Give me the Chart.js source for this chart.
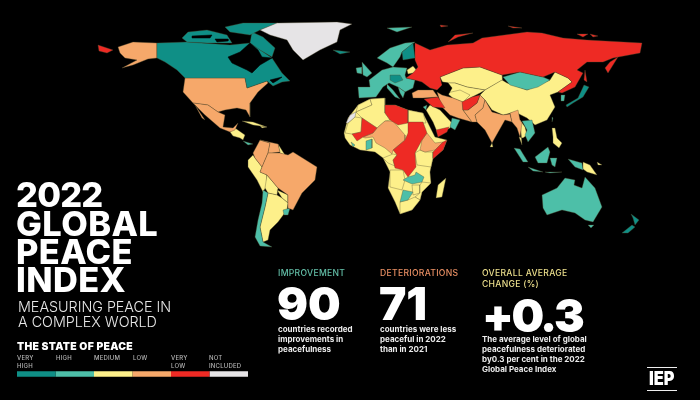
<!DOCTYPE html>
<html lang="en">
<head>
<meta charset="UTF-8">
<title>2022 Global Peace Index</title>
<script src="https://cdn.jsdelivr.net/npm/chart.js@4"></script>
<style>
html,body{margin:0;padding:0;background:#000;}
#wrap{position:relative;width:700px;height:400px;overflow:hidden;background:#000;font-family:Inter,Roboto,sans-serif;color:#fff;}
#map{position:absolute;left:0;top:0;}
#bar{position:absolute;left:17px;top:369px;}
.t{position:absolute;white-space:nowrap;}
.title{left:16px;top:181.4px;font-size:34.4px;line-height:28.3px;font-weight:800;letter-spacing:-.8px;}
.title span{letter-spacing:.4px;}
.sub{left:18px;top:298.5px;font-size:14.3px;line-height:15px;font-weight:300;color:#e8e8e8;}
.state{left:17px;top:339.5px;font-size:10.4px;font-weight:900;letter-spacing:.3px;}
.lg{top:354px;font-size:6px;line-height:8px;font-weight:500;color:#b5b5b5;letter-spacing:.2px;}
.head{font-size:8.6px;line-height:10.5px;font-weight:500;letter-spacing:.3px;}
.num{font-weight:900;font-size:46px;line-height:46px;}
.body{font-size:8px;line-height:10px;font-weight:700;color:#ececec;}
#logo{position:absolute;left:647px;top:367px;width:30px;height:22px;border-top:1px solid #eee;border-bottom:1px solid #eee;font-size:19px;font-weight:900;line-height:22px;text-align:center;}
#logo span{display:inline-block;transform:scaleX(.86);margin-left:-4px;margin-right:-4px;}
</style>
</head>
<body>
<div id="wrap">
	<canvas id="map" width="700" height="400"></canvas>
	<canvas id="bar" width="231" height="10"></canvas>

	<div class="t title">2022<br><span>GLOBAL</span><br><span>PEACE</span><br><span>INDEX</span></div>
	<div class="t sub">MEASURING PEACE IN<br>A COMPLEX WORLD</div>
	<div class="t state">THE STATE OF PEACE</div>
	<div class="t lg" style="left:17px">VERY<br>HIGH</div>
	<div class="t lg" style="left:56px">HIGH</div>
	<div class="t lg" style="left:94px">MEDIUM</div>
	<div class="t lg" style="left:133px">LOW</div>
	<div class="t lg" style="left:171px">VERY<br>LOW</div>
	<div class="t lg" style="left:209px">NOT<br>INCLUDED</div>

	<div class="t head" style="left:278px;top:268px;color:#63bfa8">IMPROVEMENT</div>
	<div class="t num" style="left:277px;top:280px">90</div>
	<div class="t body" style="left:278px;top:324px">countries recorded<br>improvements in<br>peacefulness</div>

	<div class="t head" style="left:380px;top:268px;color:#e98f63">DETERIORATIONS</div>
	<div class="t num" style="left:379px;top:280px">71</div>
	<div class="t body" style="left:380px;top:324px">countries were less<br>peaceful in 2022<br>than in 2021</div>

	<div class="t head" style="left:482px;top:268px;color:#ecdf8c">OVERALL AVERAGE<br>CHANGE (%)</div>
	<div class="t num" style="left:482px;top:292px;letter-spacing:-2.5px">+0.3</div>
	<div class="t body" style="left:482px;top:334px">The average level of global<br>peacefulness deteriorated<br>by0.3 per cent in the 2022<br>Global Peace Index</div>

	<div id="logo"><span>IEP</span></div>
</div>

<script>
// outlines, in map units (0-700 across, 0-400 down)
var greenland=[[260,30],[277,23],[337,22],[352,24],[340,30],[337,42],[320,50],[303,60],[293,50],[287,40],[270,35]];
var alaska=[[118,47],[133,42],[157,43],[157,58],[148,59],[133,65],[122,68],[137,60],[125,58],[120,53]];
var chukotka=[[98,45],[113,50],[107,53],[99,51]];
var canada=[[157,43],[187,42],[230,45],[250,43],[272,58],[282,73],[290,81],[282,82],[273,86],[267,81],[247,88],[245,78],[185,78],[177,70],[165,62],[157,58]];
var baffin=[[252,32],[263,37],[275,48],[272,57],[260,50],[250,43]];
var ellesmere=[[225,27],[243,23],[278,23],[260,30],[250,35],[230,32]];
var arctic=[[182,38],[188,32],[207,30],[227,35],[232,43],[207,43],[187,42]];
var iceland=[[333,50],[350,52],[340,54]];
var usa=[[185,78],[245,78],[247,88],[267,81],[268,83],[258,92],[250,103],[250,117],[246,110],[237,108],[225,110],[218,112],[208,105],[193,103],[183,92]];
var mexico=[[193,103],[208,105],[218,112],[225,115],[223,127],[233,128],[238,123],[235,130],[230,132],[220,128],[205,115]];
var baja=[[195,105],[205,120],[202,118]];
var centralAmerica=[[230,132],[235,128],[245,135],[243,140],[240,138],[233,136]];
var costaRica=[[243,141],[253,144],[248,145]];
var cuba=[[242,121],[253,122],[267,127],[253,125]];
var hispaniola=[[260,126],[267,127],[262,128]];

var colombia=[[253,153],[260,140],[270,143],[268,153],[262,167],[255,158]];
var venezuela=[[260,140],[278,144],[280,152],[272,153],[268,153],[270,143]];
var guyanas=[[278,144],[285,155],[280,153]];
var brazil=[[268,153],[280,153],[288,155],[293,152],[317,167],[315,180],[302,193],[293,210],[288,208],[288,195],[278,188],[267,175],[260,172],[262,167]];
var peru=[[248,160],[253,155],[255,158],[262,167],[260,172],[267,175],[267,185],[263,192],[257,180],[248,167]];
var bolivia=[[267,175],[278,188],[277,195],[268,193],[265,188]];
var paraguay=[[277,190],[288,195],[288,203],[282,198]];
var argentina=[[268,193],[277,195],[282,198],[288,203],[287,210],[278,222],[270,230],[268,240],[263,242],[260,227],[265,207]];
var chile=[[263,190],[268,193],[265,207],[260,227],[263,242],[272,247],[260,246],[255,237],[258,220],[262,203]];
var uruguay=[[283,210],[290,208],[288,215],[284,215]];

var russia=[[430,50],[447,45],[473,43],[482,38],[527,32],[542,33],[563,38],[587,40],[642,43],[640,53],[613,58],[603,62],[587,62],[577,70],[583,73],[575,87],[562,93],[558,92],[572,82],[568,78],[555,72],[543,77],[520,72],[502,75],[480,67],[463,68],[440,77],[442,85],[437,90],[430,88],[422,82],[415,80],[406,78],[413,73],[418,67],[415,60],[415,43]];
var kamchatka=[[605,68],[610,62],[618,57],[613,65],[608,73]];
var sakhalin=[[585,70],[587,82],[584,80]];
var novayaZemlya=[[448,42],[455,35],[473,33],[458,37]];
var severnaya=[[508,26],[522,28],[513,28]];
var newSiberia=[[577,34],[588,34],[583,37]];
var wrangel=[[590,34],[598,36],[593,37]];
var franzJosef=[[440,25],[448,26],[441,27]];
var svalbard=[[387,28],[412,27],[397,32]];
var scandinavia=[[377,58],[390,48],[405,43],[415,42],[402,52],[400,57],[393,67],[387,63]];
var finland=[[402,52],[413,43],[415,58],[403,60]];
var uk=[[362,62],[372,73],[367,77],[363,75]];
var ireland=[[356,68],[362,67],[362,74],[357,73]];
var europe=[[369,80],[382,70],[393,67],[407,68],[405,75],[406,78],[415,80],[413,88],[405,92],[398,87],[389,83],[383,87],[376,97],[359,98],[358,87],[370,87]];
var italy=[[387,84],[393,90],[400,99],[395,97],[387,88]];
var balkans=[[398,87],[405,92],[403,98],[400,93]];
var centralEurope=[[390,75],[400,75],[403,80],[395,83],[390,80]];
var belarus=[[407,70],[413,66],[418,72],[408,74]];
var turkey=[[412,93],[418,90],[433,90],[438,97],[423,98],[413,98]];
var syriaIraq=[[424,99],[438,97],[445,108],[433,107]];
var iran=[[437,92],[442,95],[453,98],[463,102],[463,110],[472,122],[458,118],[450,115],[442,107]];
var afghanistan=[[462,102],[472,97],[480,95],[477,103],[468,110],[463,110]];
var pakistan=[[463,110],[468,110],[477,103],[480,95],[485,100],[483,108],[475,115],[477,122],[472,122]];
var india=[[475,115],[483,108],[485,100],[492,112],[503,115],[510,114],[512,122],[505,120],[492,143],[485,130],[477,122]];
var myanmar=[[510,113],[518,110],[520,120],[522,123],[520,137],[517,128],[512,122]];
var sriLanka=[[492,143],[493,147],[490,147]];
var thailand=[[520,120],[525,127],[527,135],[523,138],[519,137],[522,145]];
var vietnam=[[522,121],[532,120],[535,133],[528,142],[525,135],[527,130]];
var kazakhstan=[[440,77],[463,68],[480,67],[502,75],[503,77],[502,80],[485,90],[467,87],[455,83],[443,83]];
var centralAsia=[[443,83],[455,83],[467,87],[485,90],[480,93],[472,97],[463,102],[453,98],[447,93]];
var uzbekistan=[[447,93],[460,90],[470,95],[463,102],[453,98]];
var china=[[485,90],[502,80],[507,83],[527,90],[550,80],[555,72],[568,78],[572,82],[558,92],[550,95],[555,107],[547,120],[535,125],[527,118],[515,112],[503,115],[492,110],[485,100],[480,95]];
var mongolia=[[503,77],[520,72],[543,77],[550,80],[538,87],[527,90],[510,85]];
var korea=[[561,95],[565,95],[564,101],[561,101]];
var japan=[[566,105],[578,98],[584,85],[589,87],[583,97],[573,103],[567,107]];
var taiwan=[[552,117],[553,118],[552,122]];
var saudi=[[426,110],[430,105],[440,110],[452,123],[450,128],[438,134],[433,122]];
var oman=[[452,118],[460,120],[455,130],[450,127]];
var yemen=[[436,130],[449,127],[447,132],[438,137]];
var jordan=[[423,107],[427,105],[426,110]];

var africaBase=[[344,133],[348,118],[358,105],[370,99],[385,98],[385,105],[395,105],[408,110],[423,113],[428,123],[435,137],[447,140],[443,150],[433,158],[430,172],[431,183],[422,192],[420,200],[412,210],[400,214],[395,202],[388,188],[390,172],[383,158],[375,152],[360,150],[350,145],[345,138]];
var morocco=[[358,105],[370,99],[372,105],[356,112]];
var algeria=[[372,105],[370,99],[385,98],[385,113],[390,120],[385,121],[377,128],[362,118],[356,112]];
var mauritania=[[348,123],[355,117],[362,118],[361,132],[352,134],[345,133]];
var wSahara=[[346,123],[350,115],[356,112],[355,117],[348,123]];
var libya=[[385,105],[395,105],[408,110],[408,123],[398,125],[390,120],[385,113]];
var egypt=[[408,110],[423,113],[426,123],[408,123]];
var mali=[[362,118],[377,128],[373,133],[363,137],[357,141],[352,134],[361,132]];
var sahel=[[377,128],[385,121],[393,121],[405,135],[405,140],[393,150],[392,154],[385,148],[376,143],[373,137],[365,138],[363,137],[373,133]];
var ghana=[[366,141],[372,139],[372,148],[366,150]];
var liberia=[[351,142],[355,145],[353,147]];
var sudanCongo=[[408,122],[423,122],[427,133],[422,140],[415,153],[416,167],[408,177],[403,170],[395,168],[393,160],[397,155],[393,150],[405,140],[408,133]];
var ethiopia=[[427,133],[435,143],[443,142],[435,150],[425,152],[420,150],[422,140]];
var somalia=[[447,140],[443,150],[433,159],[433,152],[435,150],[443,142]];
var eastAfrica=[[415,153],[420,150],[425,152],[433,152],[433,158],[431,167],[417,165]];
var gabon=[[383,158],[393,154],[397,155],[393,160],[395,166],[388,163]];
var angola=[[390,170],[403,170],[405,180],[402,190],[390,187]];
var zambia=[[403,180],[408,177],[415,175],[416,172],[424,177],[422,182],[412,184]];
var botswana=[[400,202],[403,190],[413,192],[408,200]];
var zimbabwe=[[412,185],[420,185],[420,193],[413,195]];
var mozambique=[[422,182],[431,183],[422,192],[420,200],[415,197],[420,193],[420,185]];
var southAfrica=[[400,202],[408,200],[415,197],[420,200],[412,210],[400,214]];
var madagascar=[[436,198],[438,185],[446,178],[442,197]];

var sumatra=[[514,148],[520,149],[528,162],[523,162]];
var java=[[528,167],[543,172],[533,171]];
var lesserSunda=[[545,172],[562,172],[550,173]];
var borneo=[[535,157],[548,147],[550,152],[547,163],[538,163]];
var sulawesi=[[550,158],[557,158],[555,167],[552,165]];
var papua=[[568,159],[582,163],[583,170],[575,167]];
var png=[[583,162],[590,165],[597,175],[587,172],[583,169]];
var newBritain=[[597,162],[602,165],[598,165]];
var philippines=[[552,128],[555,128],[557,138],[562,143],[559,148],[553,143],[553,137]];
var australia=[[542,195],[557,188],[565,178],[575,180],[574,185],[582,188],[585,177],[595,188],[602,207],[593,222],[585,220],[575,213],[562,210],[547,215],[543,208]];
var tasmania=[[588,225],[594,225],[591,228]];
var nzSouth=[[622,233],[632,225],[635,227],[628,233]];
var nzNorth=[[631,214],[639,220],[635,225],[633,218]];

// sea drawn over the land
var hudsonBay=[[228,57],[240,52],[250,43],[258,50],[262,57],[272,58],[260,65],[252,73],[247,70],[232,63]];
var channelA=[[192,36],[212,35],[210,38],[193,38]];
var channelB=[[215,39],[228,39],[228,41],[217,42]];
var stLawrence=[[270,80],[282,77],[278,80],[273,83]];
var caspian=[[442,82],[448,83],[452,88],[448,95],[445,93],[443,87]];

// peace level per group, same names as the legend
var levelNames=["VERY HIGH","HIGH","MEDIUM","LOW","VERY LOW","NOT INCLUDED"];
var levelShares=[1,1,1,1,1,1];
var levelColors=["#0f8f86","#4dbfa8","#fdf08a","#f6a86a","#ee2a24","#e6e4e6"];

var medium=[africaBase,morocco,algeria,mauritania,egypt,eastAfrica,gabon,angola,zimbabwe,mozambique,southAfrica,madagascar,centralAmerica,cuba,hispaniola,guyanas,peru,bolivia,paraguay,argentina,belarus,sriLanka,thailand,kazakhstan,centralAsia,uzbekistan,china,saudi,png,newBritain,philippines];
var high=[svalbard,scandinavia,uk,ireland,europe,italy,balkans,costaRica,chile,uruguay,mongolia,korea,vietnam,oman,jordan,ghana,liberia,zambia,botswana,sumatra,java,lesserSunda,borneo,sulawesi,papua,taiwan,australia,tasmania];
var low=[alaska,usa,mexico,baja,colombia,venezuela,brazil,turkey,iran,pakistan,india,myanmar,sahel,ethiopia];
var veryLow=[chukotka,russia,kamchatka,sakhalin,novayaZemlya,severnaya,newSiberia,wrangel,franzJosef,syriaIraq,afghanistan,yemen,libya,mali,sudanCongo,somalia];
var veryHigh=[canada,baffin,ellesmere,arctic,iceland,finland,centralEurope,japan,nzSouth,nzNorth];
var notIncluded=[greenland,wSahara];
var water=[hudsonBay,channelA,channelB,stLawrence,caspian];

// paint order, bottom to top
var layers=[[medium,levelColors[2]],[high,levelColors[1]],[low,levelColors[3]],[veryLow,levelColors[4]],[veryHigh,levelColors[0]],[notIncluded,levelColors[5]],[water,"#000000"]];

var sets=[];
layers.forEach(function(layer){
	layer[0].forEach(function(pts){
		sets.push({
			data:pts.concat([pts[0]]).map(function(p){ return {x:p[0],y:p[1]}; }),
			showLine:true,
			fill:"shape",
			backgroundColor:layer[1],
			borderColor:layer[1]=="#000000" ? "#000000" : "rgba(80,75,45,0.7)",
			borderWidth:0.5,
			pointRadius:0,
			tension:0
		});
	});
});
// chart.js paints high order first
sets.forEach(function(s,i){ s.order=sets.length-i; });

new Chart(document.getElementById("map"),{
	type:"scatter",
	data:{datasets:sets},
	options:{
		responsive:false,
		animation:false,
		layout:{padding:0},
		plugins:{legend:{display:false},tooltip:{enabled:false}},
		scales:{
			x:{type:"linear",min:0,max:700,display:false},
			y:{type:"linear",min:0,max:400,reverse:true,display:false}
		}
	}
});

new Chart(document.getElementById("bar"),{
	type:"bar",
	data:{
		labels:["THE STATE OF PEACE"],
		datasets:levelNames.map(function(n,i){
			return {label:n,data:[levelShares[i]],backgroundColor:levelColors[i],barPercentage:1,categoryPercentage:.55};
		})
	},
	options:{
		indexAxis:"y",
		responsive:false,
		animation:false,
		layout:{padding:0},
		plugins:{legend:{display:false},tooltip:{enabled:false}},
		scales:{
			x:{stacked:true,min:0,max:6,display:false},
			y:{stacked:true,display:false}
		}
	}
});
</script>
</body>
</html>
